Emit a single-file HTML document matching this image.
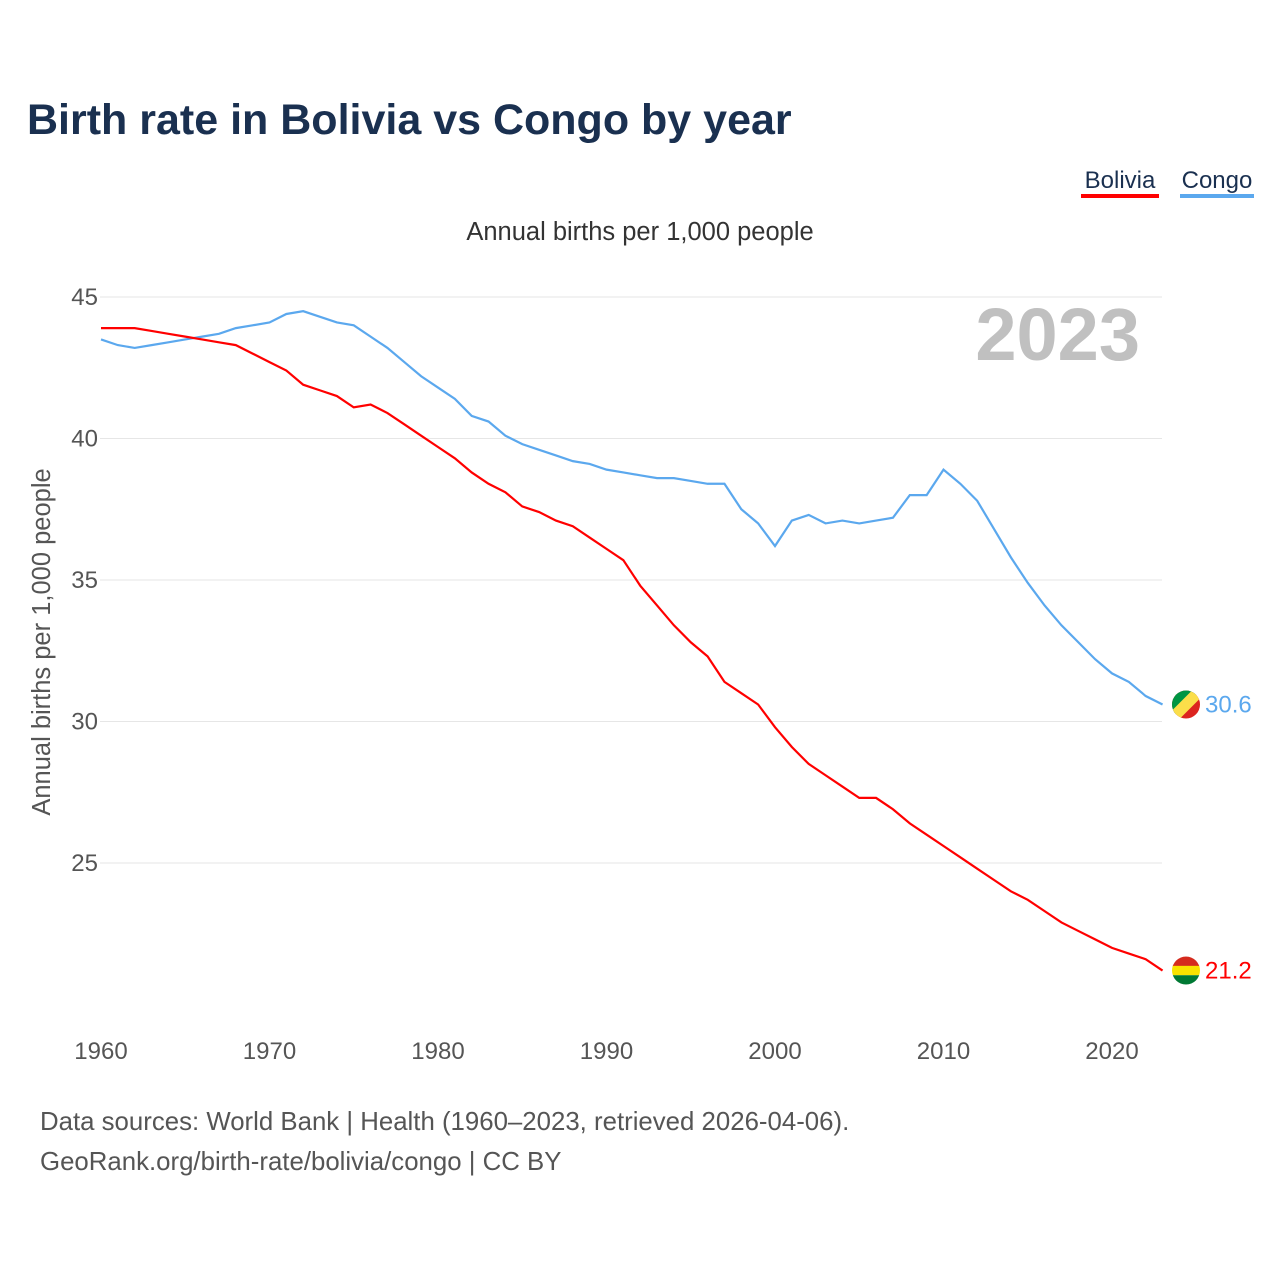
<!DOCTYPE html>
<html><head><meta charset="utf-8"><style>
body{margin:0;background:#fff;font-family:"Liberation Sans",sans-serif;}
</style></head><body>
<svg width="1280" height="1280" xmlns="http://www.w3.org/2000/svg" id="chart" style="font-family:'Liberation Sans',sans-serif">
<text x="27" y="134" font-size="43" font-weight="bold" fill="#1a3050">Birth rate in Bolivia vs Congo by year</text>
<g><text x="1120" y="188" font-size="24" fill="#1a3050" text-anchor="middle">Bolivia</text><rect x="1081" y="194" width="78" height="4" fill="#ff0000"/></g>
<g><text x="1217" y="188" font-size="24" fill="#1a3050" text-anchor="middle">Congo</text><rect x="1180" y="194" width="74" height="4" fill="#5ba8ee"/></g>
<text x="640" y="240" font-size="25.5" fill="#333" text-anchor="middle">Annual births per 1,000 people</text>
<text x="1140" y="360" font-size="74" font-weight="bold" fill="#c0c0c0" text-anchor="end">2023</text>
<text transform="translate(50,642) rotate(-90)" font-size="25.5" fill="#555" text-anchor="middle">Annual births per 1,000 people</text>
<g id="grid"></g><g id="series"></g>
<text x="40" y="1130" font-size="25.8" fill="#555">Data sources: World Bank | Health (1960–2023, retrieved 2026-04-06).</text>
<text x="40" y="1170" font-size="25.8" fill="#555">GeoRank.org/birth-rate/bolivia/congo | CC BY</text>
</svg>
<script>
const years=[];for(let y=1960;y<=2023;y++)years.push(y);
const bolivia=[43.9,43.9,43.9,43.8,43.7,43.6,43.5,43.4,43.3,43.0,42.7,42.4,41.9,41.7,41.5,41.1,41.2,40.9,40.5,40.1,39.7,39.3,38.8,38.4,38.1,37.6,37.4,37.1,36.9,36.5,36.1,35.7,34.8,34.1,33.4,32.8,32.3,31.4,31.0,30.6,29.8,29.1,28.5,28.1,27.7,27.3,27.3,26.9,26.4,26.0,25.6,25.2,24.8,24.4,24.0,23.7,23.3,22.9,22.6,22.3,22.0,21.8,21.6,21.2];
const congo=[43.5,43.3,43.2,43.3,43.4,43.5,43.6,43.7,43.9,44.0,44.1,44.4,44.5,44.3,44.1,44.0,43.6,43.2,42.7,42.2,41.8,41.4,40.8,40.6,40.1,39.8,39.6,39.4,39.2,39.1,38.9,38.8,38.7,38.6,38.6,38.5,38.4,38.4,37.5,37.0,36.2,37.1,37.3,37.0,37.1,37.0,37.1,37.2,38.0,38.0,38.9,38.4,37.8,36.8,35.8,34.9,34.1,33.4,32.8,32.2,31.7,31.4,30.9,30.6];
const yTicks=[25,30,35,40,45];
const xTicks=[1960,1970,1980,1990,2000,2010,2020];
const X=y=>101+(y-1960)*16.85;
const Y=v=>297+(45-v)*28.3;
const NS="http://www.w3.org/2000/svg";
const g=document.getElementById('grid'),s=document.getElementById('series');
function mk(t,a,p){const e=document.createElementNS(NS,t);for(const k in a)e.setAttribute(k,a[k]);p.appendChild(e);return e;}
yTicks.forEach(v=>{
 const l=mk('line',{x1:100,x2:1162,y1:Y(v),y2:Y(v),stroke:'#e6e6e6'},g);
 
 
 const t=mk('text',{x:98,y:Y(v)+8,'font-size':24,fill:'#555','text-anchor':'end'},g);t.textContent=v;
 
 
});
xTicks.forEach(v=>{
 const t=mk('text',{x:X(v),y:1059,'font-size':24,fill:'#555','text-anchor':'middle'},g);t.textContent=v;
 
 
});
function line(vals,col,name){
 const p=mk('path',{d:vals.map((v,i)=>(i?'L':'M')+X(years[i])+','+Y(v)).join(''),fill:'none',stroke:col,'stroke-width':2.2},s);
 
 
 const last=vals[vals.length-1];
 const t=mk('text',{x:1205,y:Y(last)+8,'font-size':24,fill:col},s);t.textContent=last.toFixed(1);
 
 
 return Y(last);
}
const cy=line(congo,'#5ba8ee','congo');
const by=line(bolivia,'#ff0000','bolivia');
const defs=mk('defs',{},s);
const c1=mk('clipPath',{id:'cc'},defs);mk('circle',{cx:1186,cy:cy,r:14},c1);
const c2=mk('clipPath',{id:'cb'},defs);mk('circle',{cx:1186,cy:by,r:14},c2);
const fc=mk('g',{'clip-path':'url(#cc)'},s);


mk('rect',{x:1172,y:cy-14,width:28,height:28,fill:'#dc241f'},fc);
mk('polygon',{points:`1172,${cy-14} 1200,${cy-14} 1172,${cy+14}`,fill:'#009543'},fc);
mk('polygon',{points:`1192,${cy-14} 1200,${cy-14} 1200,${cy-6} 1180,${cy+14} 1172,${cy+14} 1172,${cy+6}`,fill:'#fbde4a'},fc);
const fb=mk('g',{'clip-path':'url(#cb)'},s);


mk('rect',{x:1172,y:by-14,width:28,height:10,fill:'#d52b1e'},fb);
mk('rect',{x:1172,y:by-4.7,width:28,height:9.4,fill:'#f9e300'},fb);
mk('rect',{x:1172,y:by+4.7,width:28,height:10,fill:'#007934'},fb);
</script>
</body></html>
